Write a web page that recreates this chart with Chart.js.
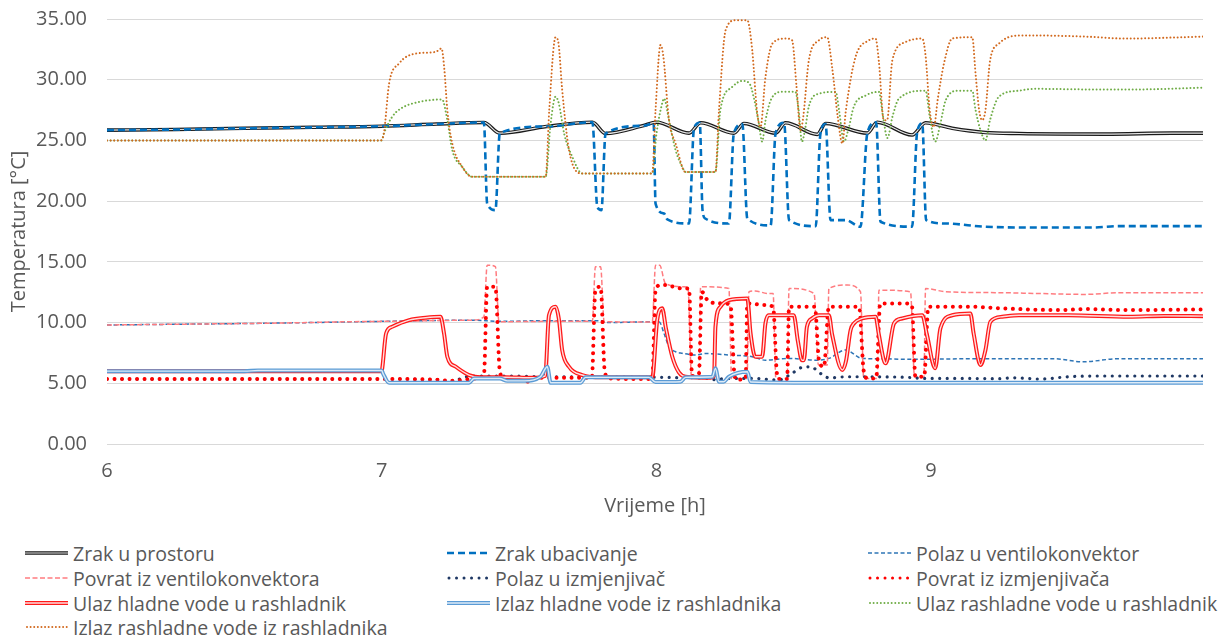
<!DOCTYPE html>
<html>
<head>
<meta charset="utf-8">
<script src="https://cdn.jsdelivr.net/npm/chart.js@4.4.1/dist/chart.umd.min.js"></script>
<style>
  html, body { margin:0; padding:0; background:#fff; }
  #wrap { position:relative; width:1223px; height:639px; font-family:'Open Sans', Lato, sans-serif; color:#595959; }
  #box { position:absolute; left:0; top:0; width:1223px; height:530px; }
  #legend { position:absolute; left:0; top:540px; width:1223px; }
  .item { position:absolute; display:flex; align-items:center; font-size:19.5px; white-space:nowrap; height:24px; }
  .item svg { margin-right:5px; }
</style>
</head>
<body>
<div id="wrap">
  <div id="box"><canvas id="c"></canvas></div>
  <div id="legend"></div>
</div>
<script>
// x = vrijeme [h], y = temperatura [°C]
const X_MIN = 6, X_MAX = 9.99;
const Y_TICKS = [0, 5, 10, 15, 20, 25, 30, 35];

const zrakProstor = [[6.00,25.85],[6.25,25.9],[6.5,26.0],[6.75,26.08],[7.00,26.17],[7.2,26.35],[7.372,26.48],[7.43,25.6],[7.6,26.15],[7.767,26.5],[7.815,25.57],[7.95,26.2],[8.00,26.5],[8.119,25.6],[8.161,26.45],[8.282,25.6],[8.319,26.4],[8.434,25.6],[8.47,26.45],[8.586,25.5],[8.616,26.4],[8.768,25.6],[8.804,26.5],[8.931,25.45],[8.98,26.45],[9.077,26.0],[9.198,25.65],[9.32,25.57],[9.635,25.52],[9.877,25.6],[9.99,25.6]];

const zrakUbacivanje = [[6.00,25.85],[6.25,25.9],[6.5,26.0],[6.75,26.08],[7.00,26.17],[7.2,26.35],[7.372,26.48],[7.384,19.8],[7.414,19.26],[7.43,25.6],[7.6,26.15],[7.767,26.5],[7.785,19.53],[7.8,19.26],[7.815,25.57],[7.95,26.2],[7.99,26.4],[7.997,19.8],[8.028,18.98],[8.04,18.5],[8.119,18.16],[8.137,26.0],[8.158,26.45],[8.168,19.26],[8.178,18.57],[8.264,18.16],[8.282,25.6],[8.313,26.35],[8.331,18.57],[8.416,18.0],[8.434,25.6],[8.465,26.45],[8.483,18.44],[8.58,17.94],[8.597,25.5],[8.616,26.35],[8.634,18.44],[8.689,18.44],[8.743,17.89],[8.768,25.6],[8.80,26.5],[8.816,18.3],[8.931,17.9],[8.949,25.6],[8.968,26.4],[8.982,18.44],[9.053,18.16],[9.198,17.89],[9.38,17.83],[9.587,17.83],[9.684,17.94],[9.99,17.94]];

const polazVentilo = [[6.00,9.8],[6.2,9.85],[6.6,9.95],[7.0,10.1],[7.33,10.2],[7.43,10.1],[7.578,10.15],[7.8,10.15],[7.815,10.0],[7.985,10.07],[8.01,10.07],[8.028,9.1],[8.046,8.0],[8.07,7.6],[8.094,7.47],[8.143,7.33],[8.18,7.45],[8.264,7.33],[8.349,7.19],[8.397,6.9],[8.483,7.05],[8.58,6.9],[8.628,7.05],[8.689,7.74],[8.749,7.05],[8.82,7.02],[8.907,6.97],[9.15,7.02],[9.45,7.02],[9.55,6.77],[9.684,7.02],[9.99,7.02]];

const povratVentilo = [[6.00,9.8],[6.2,9.85],[6.6,9.95],[7.0,10.1],[7.33,10.2],[7.372,10.48],[7.384,14.73],[7.414,14.6],[7.427,10.07],[7.6,10.1],[7.767,10.1],[7.778,14.6],[7.797,14.6],[7.81,10.07],[7.985,10.05],[7.997,14.73],[8.012,14.73],[8.033,13.22],[8.10,12.95],[8.115,12.9],[8.128,5.5],[8.155,5.5],[8.161,12.95],[8.264,12.81],[8.274,5.4],[8.33,5.4],[8.337,12.54],[8.36,12.6],[8.405,12.4],[8.425,12.4],[8.435,5.4],[8.476,5.4],[8.483,12.81],[8.574,12.4],[8.59,6.5],[8.622,6.5],[8.628,12.81],[8.695,13.09],[8.743,12.54],[8.755,5.4],[8.805,5.4],[8.81,12.67],[8.925,12.54],[8.94,5.5],[8.974,5.5],[8.98,12.81],[9.053,12.54],[9.259,12.46],[9.38,12.4],[9.562,12.32],[9.684,12.46],[9.99,12.46]];

const polazIzmj = [[6.00,5.35],[6.5,5.35],[7.0,5.35],[7.2,5.3],[7.257,5.13],[7.3,5.5],[7.37,5.6],[7.45,5.6],[7.6,5.54],[7.8,5.54],[8.0,5.5],[8.1,5.46],[8.2,5.4],[8.215,5.27],[8.25,5.4],[8.35,5.4],[8.446,5.27],[8.494,5.82],[8.53,6.31],[8.561,6.36],[8.597,5.82],[8.628,5.45],[8.7,5.54],[8.9,5.5],[8.98,5.4],[9.1,5.4],[9.25,5.38],[9.3,5.45],[9.4,5.35],[9.5,5.54],[9.6,5.6],[9.99,5.6]];

const povratIzmj = [[6.00,5.35],[6.5,5.35],[7.0,5.35],[7.2,5.3],[7.25,5.2],[7.35,5.4],[7.372,5.6],[7.384,12.95],[7.414,12.95],[7.43,6.0],[7.445,5.4],[7.5,5.4],[7.536,5.13],[7.56,5.45],[7.765,5.45],[7.778,12.67],[7.797,12.95],[7.812,6.0],[7.827,5.4],[7.985,5.35],[7.997,12.67],[8.015,13.09],[8.03,13.09],[8.094,12.81],[8.119,12.81],[8.13,5.6],[8.155,5.8],[8.165,12.54],[8.191,11.71],[8.24,11.58],[8.27,11.44],[8.283,6.0],[8.29,5.3],[8.325,5.4],[8.331,11.58],[8.397,11.44],[8.425,11.3],[8.438,6.0],[8.446,5.35],[8.476,5.35],[8.483,11.3],[8.577,11.3],[8.592,6.9],[8.61,6.36],[8.628,11.3],[8.738,11.3],[8.755,6.0],[8.77,5.4],[8.80,5.4],[8.815,11.58],[8.907,11.58],[8.93,11.44],[8.943,5.54],[8.975,5.54],[8.99,11.3],[9.15,11.3],[9.259,11.17],[9.466,11.03],[9.562,11.11],[9.708,11.03],[9.99,11.08]];

const ulazHladne = [[6.00,6.0],[6.5,6.0],[7.0,6.0],[7.002,6.23],[7.016,9.1],[7.038,9.65],[7.1,10.2],[7.16,10.4],[7.214,10.48],[7.227,9.1],[7.239,7.19],[7.27,6.36],[7.318,5.68],[7.36,5.49],[7.45,5.5],[7.55,5.45],[7.595,5.6],[7.609,10.6],[7.633,11.3],[7.645,10.3],[7.657,7.74],[7.682,6.36],[7.73,5.68],[7.8,5.49],[7.985,5.49],[8.003,10.2],[8.021,11.17],[8.035,9.5],[8.058,7.19],[8.082,5.9],[8.106,5.54],[8.197,5.45],[8.21,5.6],[8.215,9.65],[8.233,11.3],[8.264,11.85],[8.331,11.99],[8.343,9.1],[8.36,7.19],[8.385,7.19],[8.397,9.93],[8.409,10.6],[8.5,10.6],[8.515,8.5],[8.53,6.9],[8.537,6.9],[8.548,9.65],[8.567,10.34],[8.592,10.6],[8.628,10.6],[8.64,9.0],[8.677,6.1],[8.69,6.8],[8.707,9.38],[8.719,9.93],[8.749,10.34],[8.798,10.48],[8.81,9.0],[8.828,6.9],[8.835,6.64],[8.865,9.93],[8.895,10.34],[8.968,10.6],[8.985,9.0],[9.015,6.23],[9.034,9.52],[9.077,10.6],[9.143,10.75],[9.155,9.1],[9.18,6.5],[9.198,7.74],[9.216,10.07],[9.259,10.48],[9.32,10.6],[9.5,10.6],[9.72,10.48],[9.85,10.55],[9.99,10.53]];

const izlazHladne = [[6.00,6.0],[6.5,6.0],[6.55,6.05],[7.0,6.05],[7.005,5.8],[7.027,5.04],[7.318,5.04],[7.336,5.4],[7.43,5.4],[7.457,5.2],[7.52,5.2],[7.578,5.54],[7.603,6.36],[7.615,5.04],[7.724,5.04],[7.742,5.49],[7.973,5.49],[7.997,5.1],[8.088,5.13],[8.106,5.49],[8.204,5.54],[8.215,6.23],[8.228,5.13],[8.245,5.13],[8.264,5.54],[8.331,5.95],[8.343,5.1],[8.5,5.05],[9.99,5.05]];

const ulazRashladne = [[6.00,25.0],[7.0,25.0],[7.008,25.57],[7.038,26.94],[7.07,27.63],[7.136,28.17],[7.22,28.37],[7.239,26.67],[7.257,24.2],[7.293,22.83],[7.33,22.0],[7.597,22.0],[7.615,26.4],[7.633,28.6],[7.645,28.04],[7.665,25.5],[7.694,23.65],[7.73,22.28],[7.985,22.28],[8.0,25.5],[8.021,28.04],[8.028,28.45],[8.046,26.67],[8.07,24.2],[8.094,22.83],[8.106,22.4],[8.215,22.4],[8.233,27.5],[8.276,29.4],[8.313,29.9],[8.337,29.75],[8.355,28.5],[8.373,26.4],[8.385,24.9],[8.397,26.6],[8.416,28.3],[8.458,29.0],[8.506,29.0],[8.518,27.5],[8.53,24.9],[8.542,26.0],[8.555,27.8],[8.592,28.85],[8.653,29.0],[8.665,27.5],[8.683,24.9],[8.70,26.0],[8.719,27.8],[8.762,28.7],[8.81,29.0],[8.825,27.0],[8.841,25.2],[8.86,27.0],[8.883,28.45],[8.98,29.1],[8.995,27.0],[9.015,24.9],[9.035,26.5],[9.053,28.3],[9.1,29.1],[9.15,29.1],[9.162,27.5],[9.18,25.84],[9.198,25.0],[9.215,26.7],[9.247,28.6],[9.32,29.1],[9.38,29.25],[9.587,29.2],[9.75,29.2],[9.99,29.35]];

const izlazRashladne = [[6.00,25.0],[6.996,25.0],[7.008,25.6],[7.027,29.68],[7.063,31.33],[7.123,32.15],[7.196,32.29],[7.218,32.57],[7.228,30.9],[7.239,27.5],[7.257,24.75],[7.293,22.83],[7.33,22.0],[7.597,22.0],[7.61,27.5],[7.633,33.5],[7.643,33.1],[7.657,29.2],[7.682,24.2],[7.73,22.28],[7.985,22.28],[7.997,27.5],[8.015,32.86],[8.025,32.0],[8.046,26.67],[8.07,24.75],[8.106,22.4],[8.215,22.4],[8.228,27.5],[8.252,34.07],[8.288,34.9],[8.331,34.9],[8.349,32.43],[8.366,27.5],[8.379,26.1],[8.397,30.2],[8.422,32.97],[8.47,33.39],[8.494,33.25],[8.51,29.5],[8.525,25.84],[8.535,27.0],[8.555,31.6],[8.592,33.25],[8.622,33.5],[8.64,31.0],[8.66,27.0],[8.677,24.75],[8.69,27.5],[8.725,31.87],[8.774,33.25],[8.798,33.39],[8.81,31.5],[8.828,26.67],[8.84,26.67],[8.859,31.6],[8.907,33.1],[8.968,33.39],[8.98,32.0],[8.995,27.5],[9.01,26.1],[9.025,28.5],[9.047,31.33],[9.077,33.39],[9.15,33.5],[9.162,30.5],[9.175,27.5],[9.186,26.67],[9.198,27.5],[9.215,31.6],[9.247,32.97],[9.32,33.64],[9.38,33.64],[9.562,33.55],[9.708,33.39],[9.99,33.55]];

// legend order = Excel series order (later series drawn on top)
const SERIES = [
  { label:'Zrak u prostoru', data:zrakProstor, color:'#1a1a1a', width:3.6, inner:'#e6e6e6', innerWidth:1.2 },
  { label:'Zrak ubacivanje', data:zrakUbacivanje, color:'#0070C0', width:2.6, dash:[7,4] },
  { label:'Polaz u ventilokonvektor', data:polazVentilo, color:'#2E75B6', width:1.5, dash:[4,2.5] },
  { label:'Povrat iz ventilokonvektora', data:povratVentilo, color:'#FF7C80', width:1.5, dash:[5,2.5] },
  { label:'Polaz u izmjenjivač', data:polazIzmj, color:'#1F3864', width:3.2, dash:[0.01,7.5], round:true },
  { label:'Povrat iz izmjenjivača', data:povratIzmj, color:'#FF0000', width:4, dash:[0.01,7.5], round:true },
  { label:'Ulaz hladne vode u rashladnik', data:ulazHladne, color:'#FF1A1A', width:4, inner:'#ffdede', innerWidth:1.4 },
  { label:'Izlaz hladne vode iz rashladnika', data:izlazHladne, color:'#5B9BD5', width:4, inner:'#deebf7', innerWidth:1.4 },
  { label:'Ulaz rashladne vode u rashladnik', data:ulazRashladne, color:'#70AD47', width:2, dash:[0.01,3.6], round:true },
  { label:'Izlaz rashladne vode iz rashladnika', data:izlazRashladne, color:'#D2691E', width:2, dash:[0.01,3.6], round:true },
];

const pts = arr => arr.map(p => ({ x:p[0], y:p[1] }));
const datasets = [];
SERIES.forEach((s, i) => {
  datasets.push({ label:s.label, data:pts(s.data), borderColor:s.color, borderWidth:s.width,
    borderDash:s.dash || [], borderCapStyle:s.round ? 'round' : 'butt', borderJoinStyle:'round',
    pointRadius:0, fill:false, cubicInterpolationMode:'monotone', order:100 - i*10 });
  if (s.inner) datasets.push({ label:s.label + ' ', data:pts(s.data), borderColor:s.inner, borderWidth:s.innerWidth,
    pointRadius:0, fill:false, cubicInterpolationMode:'monotone', order:100 - i*10 - 5 });
});

const FONT = "'Open Sans', Lato, sans-serif";
new Chart(document.getElementById('c'), {
  type:'line',
  data:{ datasets },
  options:{
    responsive:true, maintainAspectRatio:false, animation:false,
    layout:{ padding:{ top:19, right:20, left:0, bottom:0 } },
    plugins:{ legend:{ display:false }, tooltip:{ enabled:false } },
    scales:{
      x:{ type:'linear', min:X_MIN, max:X_MAX,
        ticks:{ stepSize:1, includeBounds:false, color:'#595959', font:{ size:20, family:FONT }, padding:15, maxRotation:0 },
        grid:{ display:false, drawTicks:false }, border:{ color:'#d9d9d9' },
        title:{ display:true, text:'Vrijeme [h]', color:'#595959', font:{ size:20, family:FONT }, padding:{ top:4, bottom:12 } },
        afterFit: s => { s.height = 86; s.paddingLeft = 0; s.paddingRight = 0; } },
      y:{ min:0, max:35,
        afterBuildTicks: s => { s.ticks = Y_TICKS.map(v => ({ value:v })); },
        ticks:{ color:'#595959', font:{ size:20, family:FONT }, padding:20, callback: v => v.toFixed(2) },
        grid:{ color:'#d9d9d9', drawTicks:false }, border:{ display:false },
        title:{ display:true, text:'Temperatura [°C]', color:'#595959', font:{ size:20, family:FONT }, padding:{ top:7, bottom:0 } },
        afterFit: s => { s.width = 107; s.paddingTop = 0; s.paddingBottom = 0; } },
    },
  },
});

// legend: 3 columns like the Excel one
const COLS = [25, 447, 868], ROW_Y = [541, 566, 591, 615];
const sample = s => {
  const w = 43;
  if (s.inner) return `<svg width="${w}" height="10"><line x1="0" y1="5" x2="${w}" y2="5" stroke="${s.color}" stroke-width="${s.width}"/><line x1="0" y1="5" x2="${w}" y2="5" stroke="${s.inner}" stroke-width="${s.innerWidth}"/></svg>`;
  const dash = s.dash ? `stroke-dasharray="${s.dash.join(' ')}"` : '';
  const cap = s.round ? 'round' : 'butt';
  return `<svg width="${w}" height="10"><line x1="${s.round ? 2 : 0}" y1="5" x2="${w}" y2="5" stroke="${s.color}" stroke-width="${Math.min(s.width, 3)}" ${dash} stroke-linecap="${cap}"/></svg>`;
};
document.getElementById('legend').innerHTML = SERIES.map((s, i) =>
  `<div class="item" style="left:${COLS[i % 3]}px;top:${ROW_Y[Math.floor(i / 3)] - 540}px;">${sample(s)}<span>${s.label}</span></div>`
).join('');
</script>
</body>
</html>
